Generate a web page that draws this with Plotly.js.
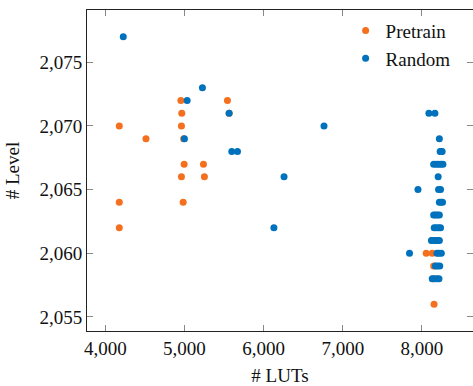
<!DOCTYPE html>
<html>
<head>
<meta charset="utf-8">
<script src="https://cdn.plot.ly/plotly-3.0.1.min.js"></script>
<style>html,body{margin:0;padding:0;background:#fff;}#chart{width:473px;height:386px;}</style>
</head>
<body>
<div id="chart"></div>
<script>
// Pretrain series
const pretrainLUTs = [4177, 4514, 4955, 4966, 4962, 4990, 4996, 5240, 4962, 5252, 5543, 5565, 4177, 4984, 4177, 8054, 8130, 8148, 8140, 8126, 8153];
const pretrainLevel = [2070, 2069, 2072, 2071, 2070, 2069, 2067, 2067, 2066, 2066, 2072, 2071, 2064, 2064, 2062, 2060, 2060, 2059, 2058, 2061, 2056];

// Random series
const randomLUTs = [4227, 5034, 5227, 5564, 5000, 5598, 5670, 6763, 6258, 6130,
  8088, 8164,
  8220,
  8230, 8245, 8255,
  8148, 8180, 8210, 8240, 8265,
  8205,
  7950, 8210, 8235,
  8220, 8240, 8260,
  8148, 8170, 8195, 8220,
  8155, 8180, 8210, 8235,
  8120, 8145, 8170, 8195, 8220,
  7843, 8190, 8215, 8245,
  8170, 8195, 8225,
  8130, 8160, 8190, 8215];
const randomLevel = [2077, 2072, 2073, 2071, 2069, 2068, 2068, 2070, 2066, 2062,
  2071, 2071,
  2069,
  2068, 2068, 2068,
  2067, 2067, 2067, 2067, 2067,
  2066,
  2065, 2065, 2065,
  2064, 2064, 2064,
  2063, 2063, 2063, 2063,
  2062, 2062, 2062, 2062,
  2061, 2061, 2061, 2061, 2061,
  2060, 2060, 2060, 2060,
  2059, 2059, 2059,
  2058, 2058, 2058, 2058];

const xTicks = [4000, 5000, 6000, 7000, 8000];
const yTicks = [2055, 2060, 2065, 2070, 2075];

const font = 'Liberation Serif, Times New Roman, serif';

const traces = [
  {x: pretrainLUTs, y: pretrainLevel, name: 'Pretrain', mode: 'markers', type: 'scatter',
   marker: {color: '#F4701F', size: 7}},
  {x: randomLUTs, y: randomLevel, name: 'Random', mode: 'markers', type: 'scatter',
   marker: {color: '#0072BD', size: 7}}
];

const axisCommon = {
  showgrid: false, zeroline: false,
  showline: true, linecolor: '#222', linewidth: 1,
  mirror: 'ticks', ticks: 'inside', ticklen: 6, tickcolor: '#888', tickwidth: 1,
  tickfont: {family: font, size: 19, color: '#111'},
  tickformat: ',d'
};

const layout = {
  width: 473, height: 386,
  margin: {l: 87, r: 0, t: 10, b: 55},
  paper_bgcolor: '#fff', plot_bgcolor: '#fff',
  separators: '.,',
  showlegend: true,
  legend: {x: 0.67, y: 0.995, xanchor: 'left', yanchor: 'top', bgcolor: 'rgba(0,0,0,0)',
           borderwidth: 0, font: {family: font, size: 19, color: '#111'}, itemwidth: 30,
           traceorder: 'normal'},
  xaxis: Object.assign({}, axisCommon, {range: [3769, 8645], tickvals: xTicks,
    title: {text: '# LUTs', font: {family: font, size: 19, color: '#111'}, standoff: 11}}),
  yaxis: Object.assign({}, axisCommon, {range: [2053.9, 2079.1], tickvals: yTicks,
    title: {text: '# Level', font: {family: font, size: 19, color: '#111'}, standoff: 14}})
};

Plotly.newPlot('chart', traces, layout, {displayModeBar: false, staticPlot: true});
</script>
</body>
</html>
